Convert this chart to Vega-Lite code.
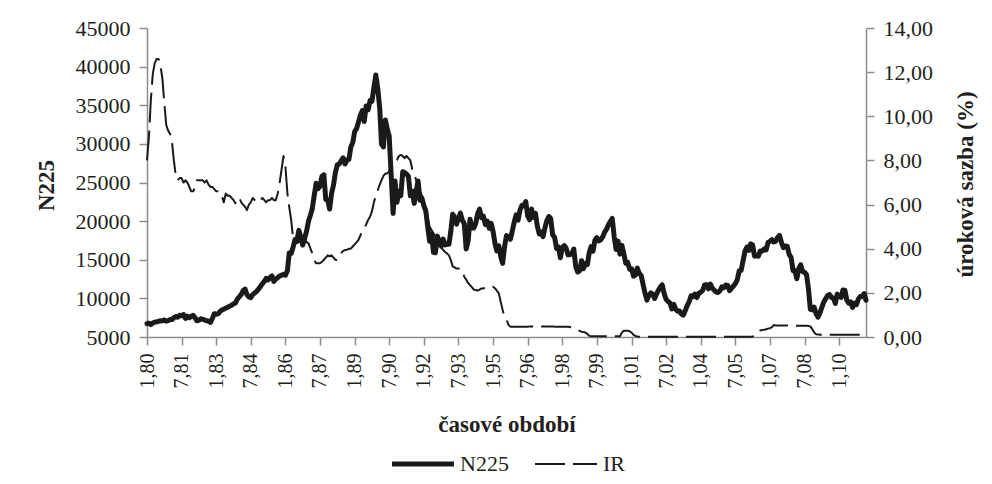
{
"$schema": "https://vega.github.io/schema/vega-lite/v6.json",
"width": 719, "height": 309,
"autosize": {"type": "none"},
"padding": {"left": 147, "top": 28, "right": 126, "bottom": 147},
"background": "white",
"config": {
  "view": {"stroke": null},
  "font": "Liberation Serif",
  "axis": {"domainColor": "#8c8c8c", "domainWidth": 1.5, "tickColor": "#8c8c8c", "tickWidth": 1.5, "tickSize": 8, "grid": false, "labelColor": "#231f20", "titleColor": "#231f20", "labelFont": "Liberation Serif", "titleFont": "Liberation Serif", "labelFontSize": 22, "titleFontSize": 23, "titleFontWeight": "bold", "labelPadding": 9},
  "legend": {"labelFont": "Liberation Serif", "labelFontSize": 22, "labelColor": "#231f20", "symbolStrokeColor": "#1a1a1a"}
},
"data": {"values": [
{"d":"1980-01","n":6730,"ir":8.0},{"d":"1980-02","n":6790,"ir":9.1},{"d":"1980-03","n":6600,"ir":10.7},{"d":"1980-04","n":6800,"ir":11.9},{"d":"1980-05","n":6920,"ir":12.4},{"d":"1980-06","n":6960,"ir":12.6},{"d":"1980-07","n":7020,"ir":12.6},{"d":"1980-08","n":7080,"ir":12.3},{"d":"1980-09","n":7100,"ir":11.7},{"d":"1980-10","n":7200,"ir":10.6},{"d":"1980-11","n":7050,"ir":9.6},{"d":"1980-12","n":7116,"ir":9.35},
{"d":"1981-01","n":7250,"ir":9.2},{"d":"1981-02","n":7250,"ir":8.8},{"d":"1981-03","n":7500,"ir":8.0},{"d":"1981-04","n":7650,"ir":7.3},{"d":"1981-05","n":7550,"ir":7.1},{"d":"1981-06","n":7800,"ir":7.2},{"d":"1981-07","n":7750,"ir":7.2},{"d":"1981-08","n":7900,"ir":7.0},{"d":"1981-09","n":7400,"ir":7.1},{"d":"1981-10","n":7700,"ir":7.0},{"d":"1981-11","n":7500,"ir":6.8},{"d":"1981-12","n":7682,"ir":6.6},
{"d":"1982-01","n":7800,"ir":6.6},{"d":"1982-02","n":7450,"ir":6.8},{"d":"1982-03","n":7100,"ir":7.1},{"d":"1982-04","n":7150,"ir":7.1},{"d":"1982-05","n":7350,"ir":7.1},{"d":"1982-06","n":7300,"ir":7.1},{"d":"1982-07","n":7200,"ir":7.0},{"d":"1982-08","n":7100,"ir":7.1},{"d":"1982-09","n":7050,"ir":6.9},{"d":"1982-10","n":6900,"ir":6.8},{"d":"1982-11","n":7400,"ir":6.8},{"d":"1982-12","n":8017,"ir":6.7},
{"d":"1983-01","n":7950,"ir":6.6},{"d":"1983-02","n":8000,"ir":6.6},{"d":"1983-03","n":8300,"ir":6.6},{"d":"1983-04","n":8500,"ir":6.4},{"d":"1983-05","n":8600,"ir":6.1},{"d":"1983-06","n":8750,"ir":6.5},{"d":"1983-07","n":8850,"ir":6.4},{"d":"1983-08","n":9000,"ir":6.4},{"d":"1983-09","n":9100,"ir":6.3},{"d":"1983-10","n":9300,"ir":6.2},{"d":"1983-11","n":9400,"ir":6.06},{"d":"1983-12","n":9893,"ir":6.3},
{"d":"1984-01","n":10200,"ir":6.3},{"d":"1984-02","n":10500,"ir":6.1},{"d":"1984-03","n":11000,"ir":6.0},{"d":"1984-04","n":11200,"ir":5.9},{"d":"1984-05","n":10500,"ir":5.75},{"d":"1984-06","n":10200,"ir":6.0},{"d":"1984-07","n":10100,"ir":6.1},{"d":"1984-08","n":10500,"ir":6.3},{"d":"1984-09","n":10700,"ir":6.2},{"d":"1984-10","n":10900,"ir":6.1},{"d":"1984-11","n":11200,"ir":6.2},{"d":"1984-12","n":11543,"ir":6.2},
{"d":"1985-01","n":11900,"ir":6.3},{"d":"1985-02","n":12200,"ir":6.2},{"d":"1985-03","n":12580,"ir":6.1},{"d":"1985-04","n":12400,"ir":6.2},{"d":"1985-05","n":12700,"ir":6.2},{"d":"1985-06","n":12900,"ir":6.3},{"d":"1985-07","n":12200,"ir":6.2},{"d":"1985-08","n":12500,"ir":6.2},{"d":"1985-09","n":12700,"ir":6.5},{"d":"1985-10","n":12900,"ir":7.0},{"d":"1985-11","n":13000,"ir":7.6},{"d":"1985-12","n":13113,"ir":8.2},
{"d":"1986-01","n":13000,"ir":7.7},{"d":"1986-02","n":13600,"ir":6.5},{"d":"1986-03","n":15860,"ir":5.9},{"d":"1986-04","n":15800,"ir":5.3},{"d":"1986-05","n":16600,"ir":4.5},{"d":"1986-06","n":17600,"ir":4.4},{"d":"1986-07","n":17500,"ir":4.25},{"d":"1986-08","n":18800,"ir":4.3},{"d":"1986-09","n":17900,"ir":4.5},{"d":"1986-10","n":16900,"ir":4.4},{"d":"1986-11","n":17800,"ir":4.4},{"d":"1986-12","n":18701,"ir":4.3},
{"d":"1987-01","n":20000,"ir":4.24},{"d":"1987-02","n":20800,"ir":4.0},{"d":"1987-03","n":21600,"ir":3.8},{"d":"1987-04","n":23300,"ir":3.5},{"d":"1987-05","n":24900,"ir":3.34},{"d":"1987-06","n":24200,"ir":3.34},{"d":"1987-07","n":24500,"ir":3.34},{"d":"1987-08","n":25800,"ir":3.4},{"d":"1987-09","n":26000,"ir":3.5},{"d":"1987-10","n":22800,"ir":3.6},{"d":"1987-11","n":22700,"ir":3.7},{"d":"1987-12","n":21564,"ir":3.65},
{"d":"1988-01","n":23600,"ir":3.7},{"d":"1988-02","n":24700,"ir":3.6},{"d":"1988-03","n":26300,"ir":3.5},{"d":"1988-04","n":27300,"ir":3.49},{"d":"1988-05","n":27400,"ir":3.6},{"d":"1988-06","n":27800,"ir":3.8},{"d":"1988-07","n":28200,"ir":3.9},{"d":"1988-08","n":27400,"ir":3.94},{"d":"1988-09","n":27900,"ir":3.95},{"d":"1988-10","n":28000,"ir":4.0},{"d":"1988-11","n":29600,"ir":4.0},{"d":"1988-12","n":30159,"ir":4.1},
{"d":"1989-01","n":31600,"ir":4.2},{"d":"1989-02","n":32000,"ir":4.3},{"d":"1989-03","n":32800,"ir":4.4},{"d":"1989-04","n":33700,"ir":4.6},{"d":"1989-05","n":34300,"ir":4.8},{"d":"1989-06","n":32900,"ir":4.93},{"d":"1989-07","n":34900,"ir":5.1},{"d":"1989-08","n":34400,"ir":5.3},{"d":"1989-09","n":35600,"ir":5.45},{"d":"1989-10","n":35500,"ir":5.7},{"d":"1989-11","n":37300,"ir":6.1},{"d":"1989-12","n":38916,"ir":6.4},
{"d":"1990-01","n":37200,"ir":6.66},{"d":"1990-02","n":34600,"ir":6.9},{"d":"1990-03","n":29980,"ir":7.1},{"d":"1990-04","n":29600,"ir":7.3},{"d":"1990-05","n":33100,"ir":7.4},{"d":"1990-06","n":31900,"ir":7.42},{"d":"1990-07","n":31000,"ir":7.5},{"d":"1990-08","n":26000,"ir":7.7},{"d":"1990-09","n":21000,"ir":7.9},{"d":"1990-10","n":25200,"ir":8.0},{"d":"1990-11","n":22450,"ir":8.02},{"d":"1990-12","n":23850,"ir":8.2},
{"d":"1991-01","n":23300,"ir":8.25},{"d":"1991-02","n":26400,"ir":8.2},{"d":"1991-03","n":26300,"ir":8.1},{"d":"1991-04","n":26100,"ir":8.2},{"d":"1991-05","n":25800,"ir":8.1},{"d":"1991-06","n":23300,"ir":8.0},{"d":"1991-07","n":23900,"ir":7.6},{"d":"1991-08","n":22300,"ir":7.4},{"d":"1991-09","n":23900,"ir":7.1},{"d":"1991-10","n":25200,"ir":6.9},{"d":"1991-11","n":22700,"ir":6.6},{"d":"1991-12","n":22980,"ir":6.4},
{"d":"1992-01","n":22000,"ir":6.1},{"d":"1992-02","n":21300,"ir":5.6},{"d":"1992-03","n":19300,"ir":5.4},{"d":"1992-04","n":17400,"ir":5.0},{"d":"1992-05","n":18300,"ir":4.85},{"d":"1992-06","n":15950,"ir":4.7},{"d":"1992-07","n":15900,"ir":4.55},{"d":"1992-08","n":18060,"ir":4.35},{"d":"1992-09","n":17400,"ir":4.2},{"d":"1992-10","n":16770,"ir":4.05},{"d":"1992-11","n":17680,"ir":3.95},{"d":"1992-12","n":16920,"ir":3.85},
{"d":"1993-01","n":17000,"ir":3.79},{"d":"1993-02","n":17000,"ir":3.7},{"d":"1993-03","n":18600,"ir":3.5},{"d":"1993-04","n":20900,"ir":3.2},{"d":"1993-05","n":20550,"ir":3.15},{"d":"1993-06","n":19600,"ir":3.1},{"d":"1993-07","n":20380,"ir":3.1},{"d":"1993-08","n":21030,"ir":3.11},{"d":"1993-09","n":20100,"ir":3.0},{"d":"1993-10","n":19700,"ir":2.73},{"d":"1993-11","n":16400,"ir":2.6},{"d":"1993-12","n":17420,"ir":2.45},
{"d":"1994-01","n":20230,"ir":2.35},{"d":"1994-02","n":19100,"ir":2.25},{"d":"1994-03","n":19100,"ir":2.15},{"d":"1994-04","n":19700,"ir":2.13},{"d":"1994-05","n":20970,"ir":2.1},{"d":"1994-06","n":21550,"ir":2.15},{"d":"1994-07","n":20450,"ir":2.2},{"d":"1994-08","n":20630,"ir":2.2},{"d":"1994-09","n":19560,"ir":2.25},{"d":"1994-10","n":19990,"ir":2.25},{"d":"1994-11","n":19080,"ir":2.25},{"d":"1994-12","n":19720,"ir":2.28},
{"d":"1995-01","n":18650,"ir":2.28},{"d":"1995-02","n":17050,"ir":2.2},{"d":"1995-03","n":16140,"ir":2.1},{"d":"1995-04","n":16810,"ir":1.98},{"d":"1995-05","n":15440,"ir":1.6},{"d":"1995-06","n":14520,"ir":1.22},{"d":"1995-07","n":16680,"ir":0.92},{"d":"1995-08","n":18120,"ir":0.8},{"d":"1995-09","n":17910,"ir":0.55},{"d":"1995-10","n":17650,"ir":0.47},{"d":"1995-11","n":18740,"ir":0.47},{"d":"1995-12","n":19870,"ir":0.47},
{"d":"1996-01","n":20810,"ir":0.47},{"d":"1996-02","n":20130,"ir":0.47},{"d":"1996-03","n":21410,"ir":0.47},{"d":"1996-04","n":22040,"ir":0.46},{"d":"1996-05","n":21960,"ir":0.47},{"d":"1996-06","n":22530,"ir":0.47},{"d":"1996-07","n":20690,"ir":0.47},{"d":"1996-08","n":20170,"ir":0.48},{"d":"1996-09","n":21560,"ir":0.48},{"d":"1996-10","n":20470,"ir":0.48},{"d":"1996-11","n":21020,"ir":0.48},{"d":"1996-12","n":19360,"ir":0.48},
{"d":"1997-01","n":18330,"ir":0.48},{"d":"1997-02","n":18560,"ir":0.48},{"d":"1997-03","n":18000,"ir":0.48},{"d":"1997-04","n":19150,"ir":0.48},{"d":"1997-05","n":20070,"ir":0.48},{"d":"1997-06","n":20600,"ir":0.48},{"d":"1997-07","n":20330,"ir":0.48},{"d":"1997-08","n":18230,"ir":0.48},{"d":"1997-09","n":17890,"ir":0.47},{"d":"1997-10","n":16460,"ir":0.47},{"d":"1997-11","n":16630,"ir":0.47},{"d":"1997-12","n":15260,"ir":0.47},
{"d":"1998-01","n":16630,"ir":0.47},{"d":"1998-02","n":16830,"ir":0.47},{"d":"1998-03","n":16530,"ir":0.47},{"d":"1998-04","n":15640,"ir":0.46},{"d":"1998-05","n":15670,"ir":0.45},{"d":"1998-06","n":15830,"ir":0.42},{"d":"1998-07","n":16380,"ir":0.38},{"d":"1998-08","n":14110,"ir":0.34},{"d":"1998-09","n":13410,"ir":0.32},{"d":"1998-10","n":13560,"ir":0.28},{"d":"1998-11","n":14880,"ir":0.24},{"d":"1998-12","n":13840,"ir":0.22},
{"d":"1999-01","n":14500,"ir":0.2},{"d":"1999-02","n":14370,"ir":0.14},{"d":"1999-03","n":15840,"ir":0.06},{"d":"1999-04","n":16700,"ir":0.03},{"d":"1999-05","n":16110,"ir":0.03},{"d":"1999-06","n":17530,"ir":0.03},{"d":"1999-07","n":17860,"ir":0.03},{"d":"1999-08","n":17440,"ir":0.03},{"d":"1999-09","n":17600,"ir":0.03},{"d":"1999-10","n":17940,"ir":0.03},{"d":"1999-11","n":18560,"ir":0.03},{"d":"1999-12","n":18934,"ir":0.03},
{"d":"2000-01","n":19540,"ir":0.03},{"d":"2000-02","n":19960,"ir":0.03},{"d":"2000-03","n":20340,"ir":0.03},{"d":"2000-04","n":17970,"ir":0.03},{"d":"2000-05","n":16330,"ir":0.03},{"d":"2000-06","n":17410,"ir":0.03},{"d":"2000-07","n":15730,"ir":0.03},{"d":"2000-08","n":16860,"ir":0.2},{"d":"2000-09","n":15750,"ir":0.28},{"d":"2000-10","n":14540,"ir":0.28},{"d":"2000-11","n":14650,"ir":0.28},{"d":"2000-12","n":13785,"ir":0.26},
{"d":"2001-01","n":13840,"ir":0.2},{"d":"2001-02","n":12880,"ir":0.1},{"d":"2001-03","n":12990,"ir":0.05},{"d":"2001-04","n":13930,"ir":0.02},{"d":"2001-05","n":13260,"ir":0.01},{"d":"2001-06","n":12970,"ir":0.01},{"d":"2001-07","n":11860,"ir":0.01},{"d":"2001-08","n":10710,"ir":0.01},{"d":"2001-09","n":9770,"ir":0.01},{"d":"2001-10","n":10370,"ir":0.01},{"d":"2001-11","n":10700,"ir":0.01},{"d":"2001-12","n":10540,"ir":0.01},
{"d":"2002-01","n":9990,"ir":0.01},{"d":"2002-02","n":10590,"ir":0.01},{"d":"2002-03","n":11020,"ir":0.01},{"d":"2002-04","n":11490,"ir":0.01},{"d":"2002-05","n":11760,"ir":0.01},{"d":"2002-06","n":10620,"ir":0.01},{"d":"2002-07","n":9880,"ir":0.01},{"d":"2002-08","n":9620,"ir":0.01},{"d":"2002-09","n":9380,"ir":0.01},{"d":"2002-10","n":8640,"ir":0.01},{"d":"2002-11","n":9220,"ir":0.01},{"d":"2002-12","n":8580,"ir":0.01},
{"d":"2003-01","n":8340,"ir":0.01},{"d":"2003-02","n":8360,"ir":0.01},{"d":"2003-03","n":7970,"ir":0.01},{"d":"2003-04","n":7830,"ir":0.01},{"d":"2003-05","n":8420,"ir":0.01},{"d":"2003-06","n":9080,"ir":0.01},{"d":"2003-07","n":9560,"ir":0.01},{"d":"2003-08","n":10340,"ir":0.01},{"d":"2003-09","n":10220,"ir":0.01},{"d":"2003-10","n":10560,"ir":0.01},{"d":"2003-11","n":10100,"ir":0.01},{"d":"2003-12","n":10680,"ir":0.01},
{"d":"2004-01","n":10780,"ir":0.01},{"d":"2004-02","n":11040,"ir":0.01},{"d":"2004-03","n":11720,"ir":0.01},{"d":"2004-04","n":11760,"ir":0.01},{"d":"2004-05","n":11240,"ir":0.01},{"d":"2004-06","n":11860,"ir":0.01},{"d":"2004-07","n":11330,"ir":0.01},{"d":"2004-08","n":11080,"ir":0.01},{"d":"2004-09","n":10820,"ir":0.01},{"d":"2004-10","n":10770,"ir":0.01},{"d":"2004-11","n":11000,"ir":0.01},{"d":"2004-12","n":11490,"ir":0.01},
{"d":"2005-01","n":11390,"ir":0.01},{"d":"2005-02","n":11740,"ir":0.01},{"d":"2005-03","n":11670,"ir":0.01},{"d":"2005-04","n":11010,"ir":0.01},{"d":"2005-05","n":11280,"ir":0.01},{"d":"2005-06","n":11580,"ir":0.01},{"d":"2005-07","n":11900,"ir":0.01},{"d":"2005-08","n":12410,"ir":0.01},{"d":"2005-09","n":13570,"ir":0.01},{"d":"2005-10","n":13610,"ir":0.01},{"d":"2005-11","n":14870,"ir":0.01},{"d":"2005-12","n":16110,"ir":0.01},
{"d":"2006-01","n":16650,"ir":0.01},{"d":"2006-02","n":16210,"ir":0.01},{"d":"2006-03","n":17060,"ir":0.01},{"d":"2006-04","n":16910,"ir":0.02},{"d":"2006-05","n":15470,"ir":0.05},{"d":"2006-06","n":15510,"ir":0.12},{"d":"2006-07","n":15460,"ir":0.25},{"d":"2006-08","n":16140,"ir":0.3},{"d":"2006-09","n":16130,"ir":0.32},{"d":"2006-10","n":16400,"ir":0.33},{"d":"2006-11","n":16270,"ir":0.35},{"d":"2006-12","n":17230,"ir":0.38},
{"d":"2007-01","n":17380,"ir":0.4},{"d":"2007-02","n":17600,"ir":0.45},{"d":"2007-03","n":17290,"ir":0.54},{"d":"2007-04","n":17400,"ir":0.52},{"d":"2007-05","n":17880,"ir":0.52},{"d":"2007-06","n":18140,"ir":0.52},{"d":"2007-07","n":17250,"ir":0.52},{"d":"2007-08","n":16570,"ir":0.52},{"d":"2007-09","n":16790,"ir":0.52},{"d":"2007-10","n":16740,"ir":0.52},{"d":"2007-11","n":15680,"ir":0.51},{"d":"2007-12","n":15310,"ir":0.51},
{"d":"2008-01","n":13590,"ir":0.51},{"d":"2008-02","n":13600,"ir":0.51},{"d":"2008-03","n":12530,"ir":0.51},{"d":"2008-04","n":13850,"ir":0.51},{"d":"2008-05","n":14340,"ir":0.51},{"d":"2008-06","n":13480,"ir":0.51},{"d":"2008-07","n":13380,"ir":0.51},{"d":"2008-08","n":13070,"ir":0.51},{"d":"2008-09","n":11260,"ir":0.5},{"d":"2008-10","n":8580,"ir":0.48},{"d":"2008-11","n":8510,"ir":0.35},{"d":"2008-12","n":8860,"ir":0.2},
{"d":"2009-01","n":7990,"ir":0.12},{"d":"2009-02","n":7570,"ir":0.11},{"d":"2009-03","n":8110,"ir":0.1},{"d":"2009-04","n":8830,"ir":0.1},{"d":"2009-05","n":9520,"ir":0.1},{"d":"2009-06","n":9960,"ir":0.1},{"d":"2009-07","n":10360,"ir":0.1},{"d":"2009-08","n":10490,"ir":0.1},{"d":"2009-09","n":10130,"ir":0.1},{"d":"2009-10","n":10030,"ir":0.1},{"d":"2009-11","n":9350,"ir":0.1},{"d":"2009-12","n":10550,"ir":0.1},
{"d":"2010-01","n":10200,"ir":0.1},{"d":"2010-02","n":10130,"ir":0.1},{"d":"2010-03","n":11090,"ir":0.1},{"d":"2010-04","n":11060,"ir":0.1},{"d":"2010-05","n":9770,"ir":0.1},{"d":"2010-06","n":9380,"ir":0.1},{"d":"2010-07","n":9540,"ir":0.1},{"d":"2010-08","n":8820,"ir":0.1},{"d":"2010-09","n":9370,"ir":0.1},{"d":"2010-10","n":9200,"ir":0.1},{"d":"2010-11","n":9940,"ir":0.1},{"d":"2010-12","n":10230,"ir":0.1},
{"d":"2011-01","n":10240,"ir":0.1},{"d":"2011-02","n":10620,"ir":0.1},{"d":"2011-03","n":9760,"ir":0.1}
]},
"encoding": {
  "x": {"field": "d", "type": "temporal",
    "scale": {"type": "utc", "domain": [{"year": 1980, "month": 1, "date": 1, "utc": true}, {"year": 2011, "month": 3, "date": 1, "utc": true}], "nice": false},
    "axis": {"title": "časové období", "titleX": 359.5, "titleY": 94, "titleBaseline": "alphabetic", "titleAlign": "center",
      "labelAngle": 270, "labelFontSize": 20, "labelPadding": 8, "labelExpr": "utcFormat(datum.value, '%-m,%y')",
      "values": [
        {"year": 1980, "month": 1, "date": 1, "utc": true}, {"year": 1981, "month": 7, "date": 1, "utc": true},
        {"year": 1983, "month": 1, "date": 1, "utc": true}, {"year": 1984, "month": 7, "date": 1, "utc": true},
        {"year": 1986, "month": 1, "date": 1, "utc": true}, {"year": 1987, "month": 7, "date": 1, "utc": true},
        {"year": 1989, "month": 1, "date": 1, "utc": true}, {"year": 1990, "month": 7, "date": 1, "utc": true},
        {"year": 1992, "month": 1, "date": 1, "utc": true}, {"year": 1993, "month": 7, "date": 1, "utc": true},
        {"year": 1995, "month": 1, "date": 1, "utc": true}, {"year": 1996, "month": 7, "date": 1, "utc": true},
        {"year": 1998, "month": 1, "date": 1, "utc": true}, {"year": 1999, "month": 7, "date": 1, "utc": true},
        {"year": 2001, "month": 1, "date": 1, "utc": true}, {"year": 2002, "month": 7, "date": 1, "utc": true},
        {"year": 2004, "month": 1, "date": 1, "utc": true}, {"year": 2005, "month": 7, "date": 1, "utc": true},
        {"year": 2007, "month": 1, "date": 1, "utc": true}, {"year": 2008, "month": 7, "date": 1, "utc": true},
        {"year": 2010, "month": 1, "date": 1, "utc": true}
      ]}
  }
},
"layer": [
  {
    "mark": {"type": "line", "strokeJoin": "round", "strokeCap": "round", "color": "#1a1a1a", "strokeWidth": 5},
    "encoding": {
      "y": {"field": "n", "type": "quantitative",
        "scale": {"domain": [5000, 45000], "nice": false, "zero": false},
        "axis": {"orient": "left", "title": "N225", "values": [5000, 10000, 15000, 20000, 25000, 30000, 35000, 40000, 45000], "format": "d",
          "titleAngle": 270, "titleX": -94, "titleY": 157, "titleBaseline": "alphabetic", "titleAlign": "center"}},
      "strokeDash": {"datum": "N225", "type": "nominal",
        "scale": {"domain": ["N225", "IR"], "range": [[1, 0], [30, 8]]},
        "legend": {"title": null, "orient": "none", "legendX": 244, "legendY": 404, "direction": "horizontal", "symbolType": "stroke", "symbolSize": 3844, "labelOffset": 5, "columnPadding": 22,
          "encode": {"symbols": {"update": {"strokeWidth": {"signal": "(datum.value === 'N225' ? 5 : 2)"}, "stroke": {"value": "#1a1a1a"}}}}}}
    }
  },
  {
    "mark": {"type": "line", "strokeJoin": "round", "color": "#1a1a1a", "strokeWidth": 2},
    "encoding": {
      "y": {"field": "ir", "type": "quantitative",
        "scale": {"domain": [0, 14], "nice": false},
        "axis": {"orient": "right", "title": "úroková sazba (%)", "values": [0, 2, 4, 6, 8, 10, 12, 14],
          "labelExpr": "replace(format(datum.value, '.2f'), '.', ',')",
          "titleAngle": 270, "titleX": 106, "titleY": 156, "titleBaseline": "alphabetic", "titleAlign": "center"}},
      "strokeDash": {"datum": "IR", "type": "nominal"}
    }
  }
],
"resolve": {"scale": {"y": "independent"}}
}
